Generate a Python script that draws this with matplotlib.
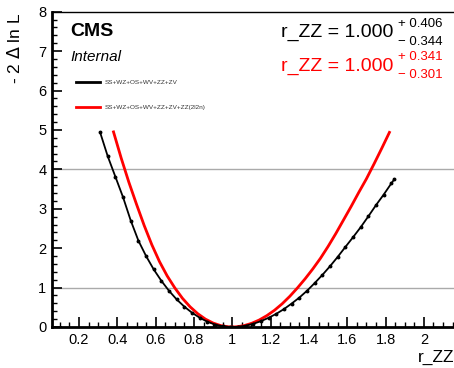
import numpy as np
import matplotlib
matplotlib.use('Agg')
import matplotlib.pyplot as plt
from matplotlib.ticker import MultipleLocator

plt.rcParams['font.family'] = ['Liberation Sans', 'DejaVu Sans']

# scan points
x_black = [0.31, 0.35, 0.39, 0.43, 0.47, 0.51, 0.55, 0.59, 0.63, 0.67, 0.71, 0.75,
           0.79, 0.83, 0.87, 0.91, 0.95, 0.99, 1.00, 1.03, 1.07, 1.11, 1.15, 1.19,
           1.23, 1.27, 1.31, 1.35, 1.39, 1.43, 1.47, 1.51, 1.55, 1.59, 1.63, 1.67,
           1.71, 1.75, 1.79, 1.83, 1.845]
y_black = [4.94, 4.33, 3.81, 3.29, 2.70, 2.19, 1.80, 1.46, 1.17, 0.916, 0.698, 0.515,
           0.361, 0.235, 0.1325, 0.0627, 0.019, 0.0008, 0.0, 0.006, 0.034, 0.082, 0.149, 0.235,
           0.336, 0.456, 0.596, 0.747, 0.920, 1.115, 1.321, 1.542, 1.779, 2.030, 2.277, 2.532,
           2.808, 3.093, 3.359, 3.644, 3.745]

x_red = [0.38, 0.42, 0.46, 0.50, 0.54, 0.58, 0.62, 0.66, 0.70, 0.74, 0.78, 0.82,
         0.86, 0.90, 0.94, 0.98, 1.00, 1.02, 1.06, 1.10, 1.14, 1.18, 1.22, 1.26,
         1.30, 1.34, 1.38, 1.42, 1.46, 1.50, 1.54, 1.58, 1.62, 1.66, 1.70, 1.74,
         1.78, 1.82]
y_red = [4.95, 4.287, 3.675, 3.115, 2.577, 2.087, 1.659, 1.297, 0.992, 0.727, 0.511, 0.336,
         0.199, 0.0999, 0.035, 0.0039, 0.0, 0.0038, 0.0335, 0.0912, 0.1764, 0.2877, 0.424, 0.588,
         0.778, 0.992, 1.223, 1.473, 1.743, 2.045, 2.369, 2.713, 3.057, 3.415, 3.760, 4.141,
         4.534, 4.938]

labels = ['SS+WZ+OS+WV+ZZ+ZV', 'SS+WZ+OS+WV+ZZ+ZV+ZZ(2l2n)']
best = ['1.000', '1.000']
err_up = ['0.406', '0.341']
err_dn = ['0.344', '0.301']
colors = ['black', 'red']

W, H = 454, 368
fig = plt.figure(figsize=(W/100., H/100.), dpi=100)
ax = fig.add_axes([52./W, 1-327./H, 1-52./W + 0.01, (327.-11.7)/H])

ax.axhline(1, color='#aaaaaa', lw=1, zorder=1)
ax.axhline(4, color='#aaaaaa', lw=1, zorder=1)

ax.plot(x_black, y_black, '-', color='black', lw=1.3, marker='o', ms=1.8,
        label=labels[0], zorder=3)
ax.plot(x_red, y_red, '-', color='red', lw=2.0, label=labels[1], zorder=2)

ax.set_xlim(0.059, 2.157 + 0.01*W/191.7)
ax.set_ylim(0, 8)
ax.xaxis.set_major_locator(MultipleLocator(0.2))
ax.xaxis.set_minor_locator(MultipleLocator(0.05))
ax.yaxis.set_major_locator(MultipleLocator(1))
ax.yaxis.set_minor_locator(MultipleLocator(0.2))
ax.set_xticks([0.2, 0.4, 0.6, 0.8, 1.0, 1.2, 1.4, 1.6, 1.8, 2.0])
ax.set_xticklabels(['0.2', '0.4', '0.6', '0.8', '1', '1.2', '1.4', '1.6', '1.8', '2'])
ax.tick_params(which='both', direction='in', top=False, right=False,
               labelsize=10.5, colors='black')
ax.tick_params(which='major', length=7, width=1.2, pad=4)
ax.tick_params(which='minor', length=3.5, width=1.0)
ax.spines['left'].set_linewidth(2)
ax.spines['bottom'].set_linewidth(2)
ax.spines['top'].set_linewidth(1)
ax.spines['right'].set_visible(False)

fig.text(14./W, 1-13./H, '- 2 $\\Delta$ ln L', rotation=90, ha='center', va='top',
         fontsize=12.5)
fig.text(454./W, 1-357./H, 'r_ZZ', ha='right', va='center', fontsize=12.5)

fig.text(70./W, 1-31./H, 'CMS', fontsize=14, fontweight='bold', va='center')
fig.text(70./W, 1-57./H, 'Internal', fontsize=11, style='italic', va='center')

leg = ax.legend(loc='upper left', bbox_to_anchor=(76./W, 1-80./H),
                bbox_transform=fig.transFigure, frameon=False, fontsize=4.6,
                borderpad=0, borderaxespad=0, handlelength=3.75,
                handletextpad=0.8, labelspacing=3.05)
for h in leg.legend_handles:
    h.set_marker('')
    h.set_linewidth(2)
for t in leg.get_texts():
    t.set_color('#333333')

rows = [32.5, 66]
for i in range(2):
    y = rows[i]
    fig.text(393./W, 1-y/H, 'r_ZZ = ' + best[i], ha='right', va='center',
             fontsize=14, color=colors[i])
    fig.text(398./W, 1-(y-8.5)/H, '+ ' + err_up[i], ha='left', va='center',
             fontsize=9.5, color=colors[i])
    fig.text(398./W, 1-(y+9.5)/H, '\u2212 ' + err_dn[i], ha='left', va='center',
             fontsize=9.5, color=colors[i])

fig.savefig('out.png', dpi=100)
